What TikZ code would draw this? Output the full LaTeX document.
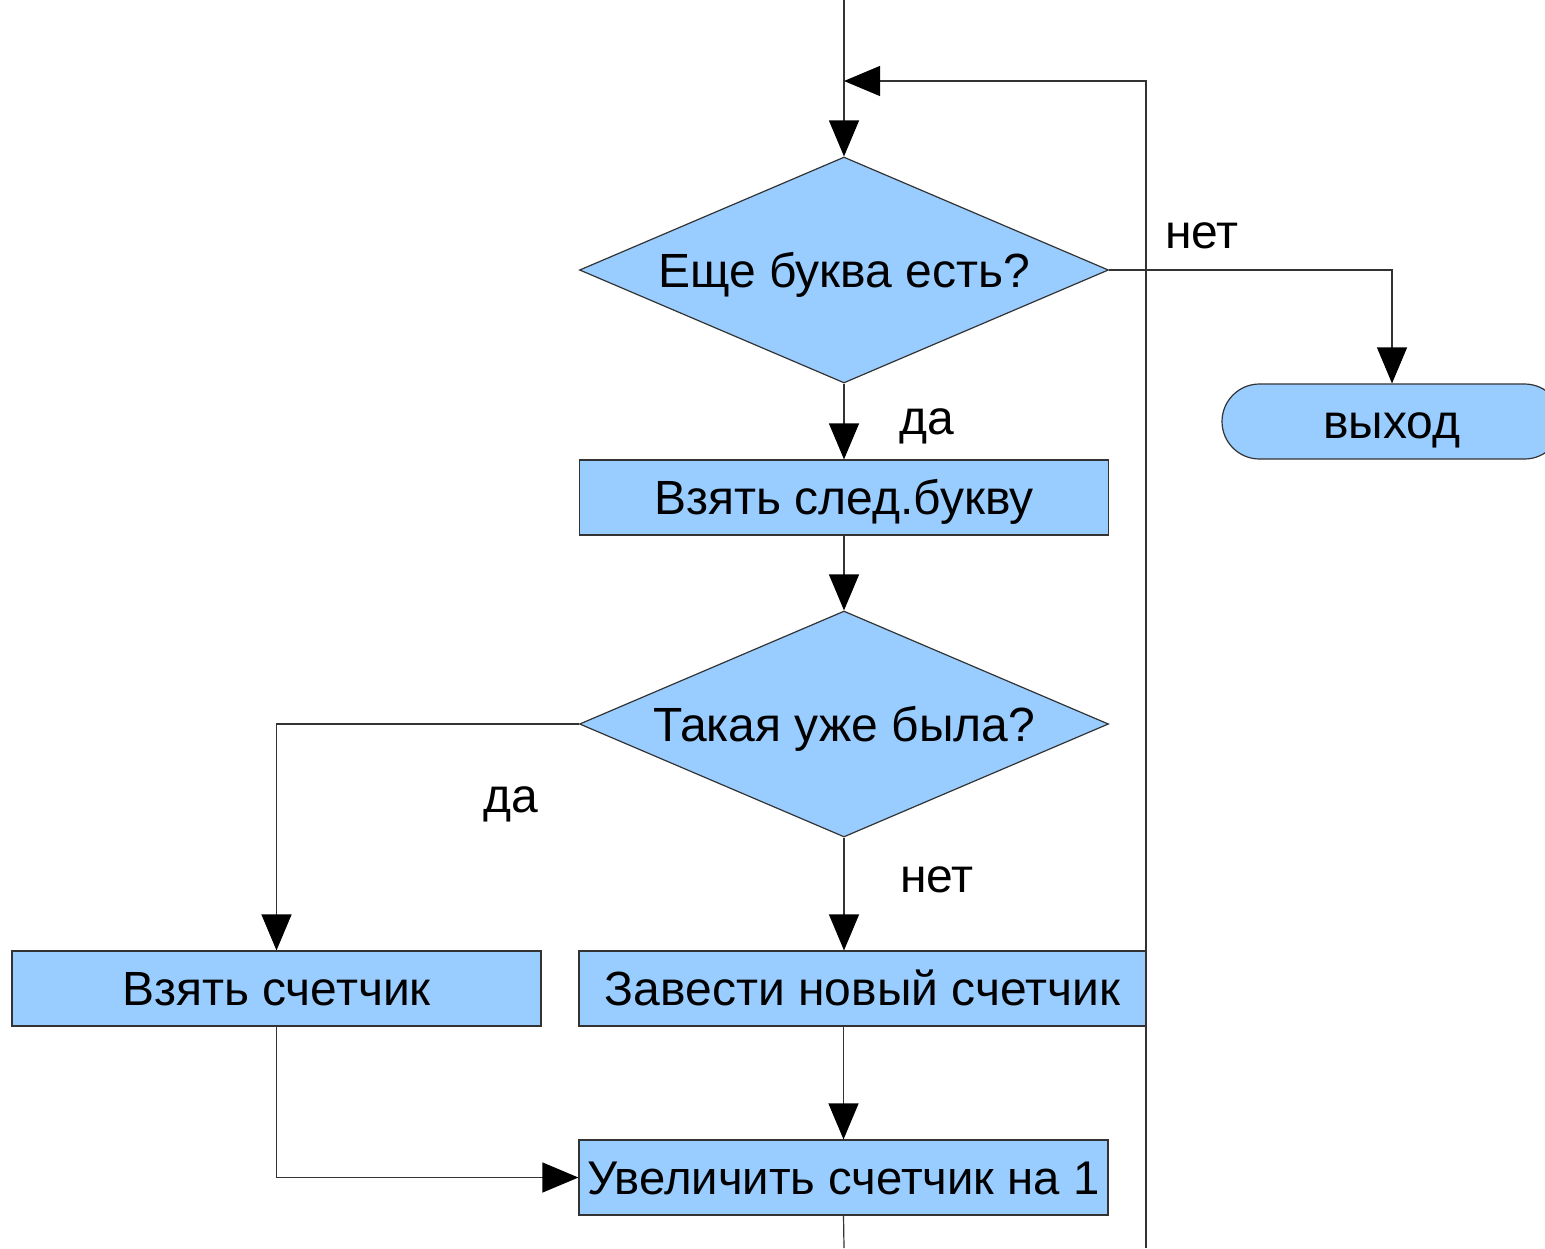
\documentclass[tikz,border=0pt]{standalone}
\usepackage{fontspec}
\setmainfont{Liberation Sans}
\usetikzlibrary{shapes.geometric,arrows.meta}
\definecolor{boxblue}{HTML}{99CCFF}
\definecolor{edge}{HTML}{333333}
\begin{document}
\begin{tikzpicture}[x=0.5pt,y=-0.5pt,
  font=\fontsize{24}{28}\selectfont,
  shp/.style={draw=edge,fill=boxblue,line width=0.6pt,inner sep=0pt,text height=17.2pt,text depth=0pt},
  procbox/.style={shp,rectangle,minimum width=264.5pt,minimum height=37.5pt},
  decision/.style={shp,diamond,aspect=2.34,minimum width=264.5pt,minimum height=113pt},
  term/.style={shp,rectangle,rounded corners=18.75pt,minimum width=170pt,minimum height=37.5pt},
  conn/.style={draw=edge,line width=0.6pt},
  arr/.style={conn,-{Triangle[length=18pt,width=15pt,color=black]}},
  lbl/.style={inner sep=0pt}]
\useasboundingbox (0,0) rectangle (1545,1248);
\clip (0,0) rectangle (1545,1248);
% nodes
\node[decision] (d1) at (844,270) {Еще буква есть?};
\node[procbox] (b1) at (844,497.5) {Взять след.букву};
\node[decision] (d2) at (844,724) {Такая уже была?};
\node[procbox] (b2) at (276.5,988.5) {Взять счетчик};
\node[procbox,minimum width=283.5pt] (b3) at (862.5,988.5) {Завести новый счетчик};
\node[procbox] (b4) at (843.5,1177.5) {\resizebox{256pt}{!}{Увеличить счетчик на 1}};
\node[term] (ex) at (1392,421.5) {выход};
% labels
\node[lbl] (l1) at (1202,236) {нет};
\node[lbl] (l2) at (927,426) {да};
\node[lbl] (l3) at (511,804) {да};
\node[lbl] (l4) at (937,880) {нет};
% free ends
\coordinate (top) at (844,0);
\coordinate (join) at (844,81);
\coordinate (loopbot) at (1146,1248);
\coordinate (loopcorner) at (1146,81);
\coordinate (bot) at (844,1248);
% connectors
\draw[conn] (top) -- (join);
\draw[arr] (join) -- (d1.north);
\draw[arr] (loopbot) -- (loopcorner) -- (join);
\draw[arr] (d1.east) -| (ex.north);
\draw[arr] (d1.south) -- (b1.north);
\draw[arr] (b1.south) -- (d2.north);
\draw[arr] (d2.west) -| (b2.north);
\draw[arr] (d2.south) -- (d2.south |- b3.north);
\draw[arr] (b3.south -| b4.north) -- (b4.north);
\draw[arr] (b2.south) |- (b4.west);
\draw[conn] (b4.south) -- (bot);
\end{tikzpicture}
\end{document}
